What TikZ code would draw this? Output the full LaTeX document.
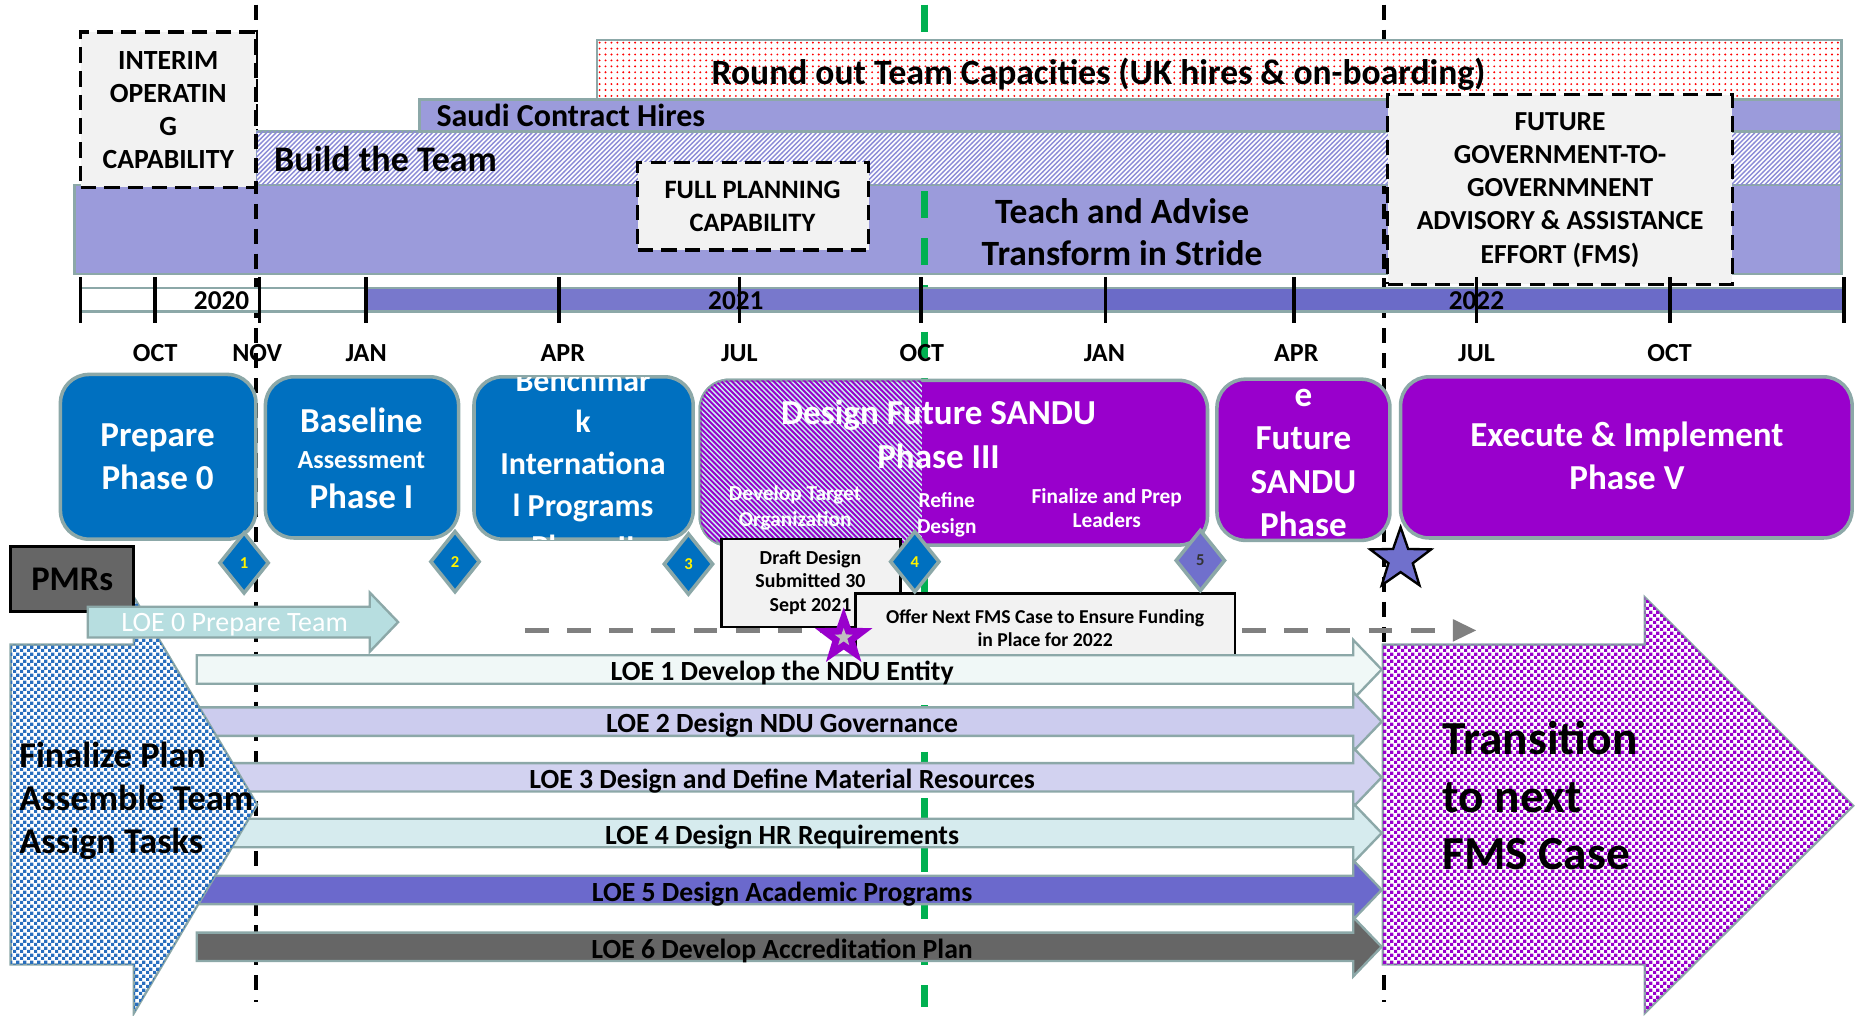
\documentclass[tikz,border=0pt]{standalone}
\usepackage{fontspec}
\setmainfont{Carlito}
\usetikzlibrary{patterns,shapes.geometric,fit,arrows.meta}
\pgfdeclarepatternformonly{rdots}{\pgfqpoint{0pt}{0pt}}{\pgfqpoint{1pt}{1pt}}{\pgfqpoint{2.5pt}{2.5pt}}{\pgfpathcircle{\pgfqpoint{0.5pt}{0.5pt}}{0.45pt}\pgfusepath{fill}}
\pgfdeclarepatternformonly{nelines}{\pgfqpoint{-1pt}{-1pt}}{\pgfqpoint{3pt}{3pt}}{\pgfqpoint{2pt}{2pt}}{\pgfsetlinewidth{0.6pt}\pgfpathmoveto{\pgfqpoint{0pt}{0pt}}\pgfpathlineto{\pgfqpoint{2.1pt}{2.1pt}}\pgfusepath{stroke}}
\pgfdeclarepatternformonly{nwlines}{\pgfqpoint{-1pt}{-1pt}}{\pgfqpoint{3pt}{3pt}}{\pgfqpoint{2.2pt}{2.2pt}}{\pgfsetlinewidth{0.8pt}\pgfpathmoveto{\pgfqpoint{0pt}{2.2pt}}\pgfpathlineto{\pgfqpoint{2.3pt}{-0.1pt}}\pgfusepath{stroke}}
\pgfdeclarepatternformonly{fcheck}{\pgfpointorigin}{\pgfqpoint{2.8pt}{2.8pt}}{\pgfqpoint{2.8pt}{2.8pt}}{\pgfpathrectangle{\pgfpointorigin}{\pgfqpoint{1.4pt}{1.4pt}}\pgfpathrectangle{\pgfqpoint{1.4pt}{1.4pt}}{\pgfqpoint{1.4pt}{1.4pt}}\pgfusepath{fill}}
\definecolor{bord}{RGB}{140,168,168}
\definecolor{lav}{RGB}{155,155,219}
\definecolor{hatchc}{RGB}{140,140,215}
\definecolor{boxg}{RGB}{242,242,242}
\definecolor{pblue}{RGB}{0,112,192}
\definecolor{ppurp}{RGB}{153,0,204}
\definecolor{yrone}{RGB}{120,120,204}
\definecolor{yrtwo}{RGB}{107,107,200}
\definecolor{gline}{RGB}{0,176,80}
\definecolor{loez}{RGB}{183,222,224}
\definecolor{loea}{RGB}{240,248,247}
\definecolor{loeb}{RGB}{204,204,238}
\definecolor{loec}{RGB}{210,210,240}
\definecolor{loed}{RGB}{214,235,238}
\definecolor{loee}{RGB}{107,105,204}
\definecolor{dgray}{RGB}{102,102,102}
\definecolor{diaf}{RGB}{112,112,204}
\definecolor{cyanl}{RGB}{200,240,240}
\definecolor{chkblue}{RGB}{40,110,190}
\definecolor{mgray}{RGB}{128,128,128}
\newcommand\mlines[6]{\foreach \myline [count=\i] in {#6} {\node[anchor=base, inner sep=0pt, #5] (#1-\i) at (#2,{#3+(\i-1)*#4}) {\myline};}}
\newcommand\loebar[5]{%
  \draw[bar, fill=#3] (166,#2) -- (1142,#2) -- (1142,#2-13) -- (1166,#2+12) -- (1142,#2+37) -- (1142,#2+24) -- (166,#2+24) -- cycle;
  \node[anchor=base, inner sep=0pt, bt=11.7, text=#5] (#1) at (660,#2+21.5) {#4};}
\begin{document}
\begin{tikzpicture}[x=0.5pt,y=-0.5pt,
  bar/.style={draw=bord, line width=1pt},
  capbox/.style={draw=black, fill=boxg, line width=1.4pt, dash pattern=on 6.5pt off 3.5pt},
  phase/.style={draw=bord, line width=1.5pt, rounded corners=12pt},
  fitbox/.style={inner sep=0pt, outer sep=0pt},
  vblack/.style={black, line width=1.6pt, dash pattern=on 6.3pt off 4.2pt},
  vgreen/.style={gline, line width=3pt, dash pattern=on 11.3pt off 8.4pt},
  tickline/.style={black, line width=1.6pt},
  bt/.style={font=\fontsize{#1}{#1}\selectfont\bfseries},
  rt/.style={font=\fontsize{#1}{#1}\selectfont},
  dia/.style={diamond, draw=bord, line width=1.5pt, minimum width=21pt, minimum height=26pt, inner sep=0pt, font=\fontsize{7}{7}\selectfont\bfseries},
  greybox/.style={draw=black, line width=1pt, fill=boxg, inner sep=0pt, outer sep=0pt},
]
\fill[white] (0,0) rectangle (1568,857);
\useasboundingbox (0,0) rectangle (1568,857);

% Teach bar
\node[bar, fitbox, fill=lav, fit={(63,156) (1554,231)}] (teach) {};
% vertical dashed lines
\coordinate (v1a) at (216,4); \coordinate (v1b) at (216,846);
\coordinate (v2a) at (780,4); \coordinate (v2b) at (780,850);
\coordinate (v3a) at (1168,4); \coordinate (v3b) at (1168,846);
\draw[vblack] (v1a) -- (v1b);
\draw[vgreen] (v2a) -- (v2b);
\draw[vblack] (v3a) -- (v3b);

% upper bars
\node[bar, fitbox, fill=white, postaction={pattern=nelines, pattern color=hatchc}, fit={(216,111) (1554,156)}] (build) {};
\node[bar, fitbox, fill=lav, fit={(354,84) (1554,111)}] (saudi) {};
\node[bar, fitbox, fill=white, postaction={pattern=rdots, pattern color=red}, fit={(504,34) (1554,84)}] (round) {};
\node[anchor=base, bt=15, inner sep=0pt] (roundT) at (927,71) {Round out Team Capacities (UK hires \& on-boarding)};
\node[anchor=base west, bt=13.5, inner sep=0pt] (saudiT) at (368,107) {Saudi Contract Hires};
\node[anchor=base west, bt=15.2, inner sep=0pt] (buildT) at (231,145) {Build the Team};
\mlines{teachT}{947}{188.5}{35.2}{bt=15}{Teach and Advise,Transform in Stride}

% capability boxes
\node[capbox, fitbox, fit={(68,27) (216,158)}] (ioc) {};
\mlines{iocT}{142}{58.6}{27.8}{bt=11.7}{INTERIM,OPERATIN,G,CAPABILITY}
\node[capbox, fitbox, fit={(538,137) (733,211)}] (fpc) {};
\mlines{fpcT}{635}{167.6}{28}{bt=11.2}{FULL PLANNING,CAPABILITY}
\node[capbox, fitbox, fit={(1171,80) (1462,240)}] (fut) {};
\mlines{futT}{1316.6}{110}{28}{bt=11.6}{FUTURE,GOVERNMENT-TO-,GOVERNMNENT,ADVISORY \& ASSISTANCE,EFFORT (FMS)}

% timeline
\node[bar, fitbox, fill=white, fit={(68,243) (309,263)}] (yr20) {};
\node[bar, fitbox, fill=yrone, fit={(309,243) (933,263)}] (yr21) {};
\node[bar, fitbox, fill=yrtwo, fit={(933,243) (1556,263)}] (yr22) {};
\foreach \tx in {68,131,219,309,472,624,777,933,1092,1246,1409,1556} \draw[tickline] (\tx,234) -- (\tx,273);
\node[anchor=base, bt=11.5, inner sep=0pt] (y20T) at (187,261) {2020};
\node[anchor=base, bt=11.5, inner sep=0pt] (y21T) at (621,261) {2021};
\node[anchor=base, bt=11.5, inner sep=0pt] (y22T) at (1246,261) {2022};
\foreach \mx/\mt [count=\i] in {131/OCT,217/NOV,309/JAN,475/APR,624/JUL,778/OCT,932/JAN,1094/APR,1246/JUL,1409/OCT}
  \node[anchor=base, bt=11, inner sep=0pt] (mon-\i) at (\mx,305) {\mt};

% phase boxes
\node[phase, fitbox, fill=pblue, fit={(51,316) (216,455)}] (ph0) {};
\mlines{ph0T}{133}{377}{36.5}{bt=14.8,text=white}{Prepare,Phase 0}
\node[phase, fitbox, fill=pblue, fit={(224,318) (387,454)}] (ph1) {};
\node[anchor=base, inner sep=0pt, bt=14.8, text=white] (ph1a) at (305,364.6) {Baseline};
\node[anchor=base, inner sep=0pt, bt=11, text=white] (ph1b) at (305,395) {Assessment};
\node[anchor=base, inner sep=0pt, bt=14.8, text=white] (ph1c) at (305,429) {Phase I};
\node[phase, fitbox, fill=pblue, fit={(400,318) (585,455)}] (ph2) {};
\begin{scope}
\clip[rounded corners=12pt] (ph2.south west) rectangle (ph2.north east);
\mlines{ph2T}{492}{330}{35.2}{bt=13.5,text=white}{Benchmar,k,Internationa,l Programs,Phase II}
\end{scope}
\node[phase, fitbox, fill=ppurp, fit={(591,321) (1019,460)}] (ph3) {};
\begin{scope}
\clip (585,300) rectangle (778,470);
\draw[phase, fill=cyanl, postaction={pattern=nwlines, pattern color=ppurp}] (ph3.south west) rectangle (ph3.north east);
\end{scope}
\mlines{ph3T}{792}{358.6}{36.4}{bt=14.8,text=white}{Design Future SANDU,Phase III}
\mlines{ph3a}{671}{422}{22.5}{bt=9,text=white}{Develop Target,Organization}
\mlines{ph3b}{799}{428}{22}{bt=9,text=white}{Refine,Design}
\mlines{ph3c}{934}{425}{20.5}{bt=9,text=white}{Finalize and Prep,Leaders}
\node[phase, fitbox, fill=ppurp, fit={(1027,320) (1173,456)}] (ph4) {};
\begin{scope}
\clip[rounded corners=12pt] (ph4.south west) rectangle (ph4.north east);
\mlines{ph4T}{1100}{343}{36.6}{bt=14.8,text=white}{e,Future,SANDU,Phase}
\end{scope}
\node[phase, fitbox, fill=ppurp, fit={(1182,318) (1563,454)}] (ph5) {};
\mlines{ph5T}{1373}{377}{36.5}{bt=14.8,text=white}{Execute \& Implement,Phase V}

% grey dashed arrow
\coordinate (ga) at (443,532); \coordinate (gb) at (1246,532);
\draw[mgray, line width=2pt, dash pattern=on 10pt off 7.8pt, -{Triangle[length=10pt,width=9pt]}] (ga) -- (gb);

% note boxes
\node[greybox, fit={(609,455) (760,529)}] (draft) {};
\mlines{draftT}{684}{476}{20.2}{bt=8.4}{Draft Design,Submitted 30,Sept 2021}
\node[greybox, fit={(722,501) (1042,558)}] (offer) {};
\mlines{offerT}{882}{526}{20}{bt=8.3}{Offer Next FMS Case to Ensure Funding,in Place for 2022}

% milestones
\node[dia, fill=pblue, text=yellow] (m1) at (206,475) {1};
\node[dia, fill=pblue, text=yellow] (m2) at (384,474) {2};
\node[dia, fill=pblue, text=yellow] (m3) at (581,476) {3};
\node[dia, fill=pblue, text=yellow] (m4) at (772,474) {4};
\node[dia, fill=diaf, text=black!80] (m5) at (1013,473) {5};

% LOE bars
\loebar{loe1}{553}{loea}{LOE 1 Develop the NDU Entity}{black}
\loebar{loe2}{597}{loeb}{LOE 2 Design NDU Governance}{black}
\loebar{loe3}{644}{loec}{LOE 3 Design and Define Material Resources}{black}
\loebar{loe4}{691}{loed}{LOE 4 Design HR Requirements}{black}
\loebar{loe5}{739}{loee}{LOE 5 Design Academic Programs}{black}
\loebar{loe6}{787}{dgray}{LOE 6 Develop Accreditation Plan}{black}

% big arrows
\draw[bar, fill=white, postaction={pattern=fcheck, pattern color=chkblue}] (9,544) -- (113,544) -- (113,504) -- (217,679) -- (113,855) -- (113,814) -- (9,814) -- cycle;
\mlines{finT}{16}{648}{36}{bt=15.3,anchor=base west}{Finalize Plan,Assemble Team,Assign Tasks}
\draw[bar, fill=white, postaction={pattern=fcheck, pattern color=ppurp}] (1167,544) -- (1388,544) -- (1388,504) -- (1564,680) -- (1388,855) -- (1388,814) -- (1167,814) -- cycle;
\mlines{trT}{1217}{637}{48.5}{bt=20,anchor=base west}{Transition,to next,FMS Case}

% PMRs and LOE 0
\node[draw=black, line width=1.2pt, fill=dgray, fitbox, fit={(9,461) (113,516)}] (pmr) {};
\node[anchor=base, bt=14.6, inner sep=0pt] (pmrT) at (61,498) {PMRs};
\draw[bar, fill=loez] (74,512) -- (312,512) -- (312,500) -- (336,525) -- (312,550) -- (312,538) -- (74,538) -- cycle;
\node[anchor=base, rt=11.8, text=white, inner sep=0pt] (loe0T) at (198,533) {LOE 0 Prepare Team};

% stars
\node[star, star points=5, star point ratio=2.5, minimum size=27pt, inner sep=0pt, fill=diaf, draw=black, line width=1pt] (st22) at (1182,472) {};
\node[star, star points=5, star point ratio=2.5, minimum size=23pt, inner sep=0pt, fill=ppurp, draw=ppurp, line width=0.8pt] (stp) at (712,538) {};
\node[star, star points=5, star point ratio=2.5, minimum size=8pt, inner sep=0pt, fill=black!25] (stpi) at (stp) {};
\end{tikzpicture}
\end{document}
